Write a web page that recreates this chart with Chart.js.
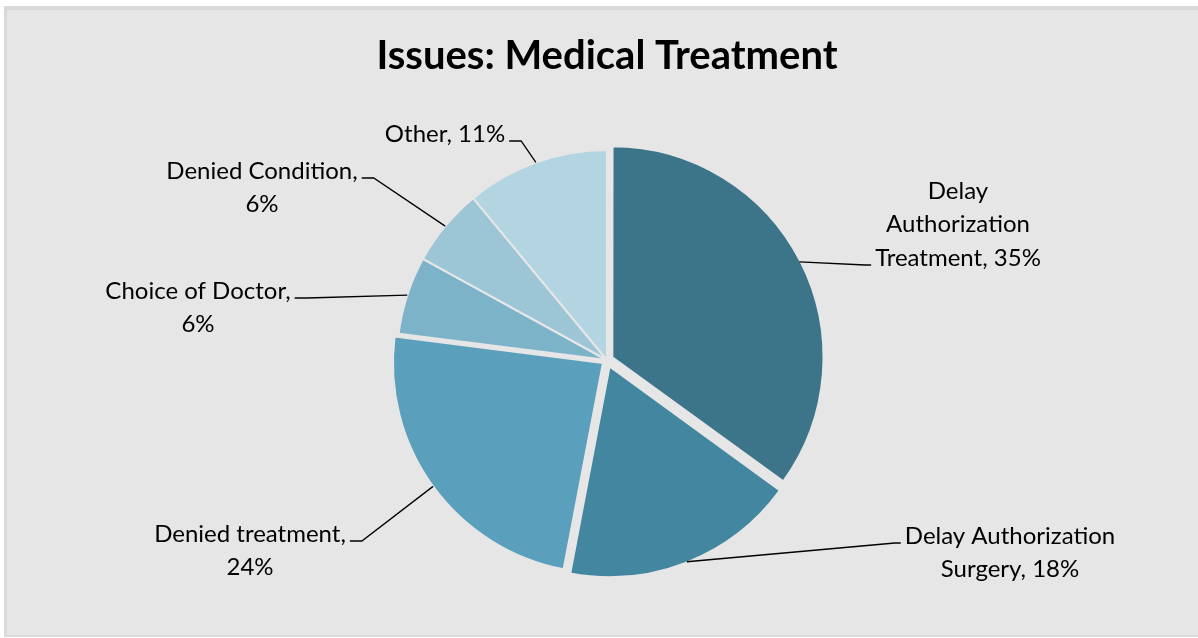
<!DOCTYPE html>
<html>
<head>
<meta charset="utf-8">
<title>Issues: Medical Treatment</title>
<script src="https://cdn.jsdelivr.net/npm/chart.js@4.4.0/dist/chart.umd.min.js"></script>
<style>
  html, body { margin: 0; padding: 0; background: #ffffff; }
  #frame {
    position: absolute; left: 4px; top: 6px; width: 1194px; height: 631px;
    box-sizing: border-box; background: #e6e6e6;
    border-left: 3px solid #d9d9d9; border-top: 4px solid #d9d9d9; border-bottom: 2px solid #d9d9d9;
  }
  #issuesChart { position: absolute; left: 0; top: 0; }
</style>
</head>
<body>
<div id="frame"></div>
<canvas id="issuesChart" width="1198" height="638"></canvas>
<script>
// data
const categories = [
    'Delay Authorization Treatment',
    'Delay Authorization Surgery',
    'Denied treatment',
    'Choice of Doctor',
    'Denied Condition',
    'Other'
];
const percents = [35, 18, 24, 6, 6, 11];

// word index where each new label line starts
const lineBreaks = [[1, 2], [2], [2], [3], [2], []];

const sliceColors = ['#3c7489', '#42869f', '#5a9fbc', '#7cb3c9', '#9cc5d6', '#b3d5e1'];
const explodePx = [6, 7, 5, 0, 0, 0];

// where each label sits: text centre, first line y, which line the leader joins, and on which side
const labelLayout = [
    { x: 958, y: 191, line: 2, side: 'left' },
    { x: 1010, y: 536, line: 0, side: 'left' },
    { x: 250, y: 534, line: 0, side: 'right' },
    { x: 198, y: 291, line: 0, side: 'right' },
    { x: 262, y: 171, line: 0, side: 'right' },
    { x: 445, y: 134, line: 0, side: 'right' }
];
const labelFont = '24px Lato';
const lineHeight = 33.5;

function wrapLabel(i) {
    const words = (categories[i] + ', ' + percents[i] + '%').split(' ');
    const lines = [];
    let cur = [];
    words.forEach((w, k) => {
        if (lineBreaks[i].includes(k) && cur.length) {
            lines.push(cur.join(' '));
            cur = [];
        }
        cur.push(w);
    });
    lines.push(cur.join(' '));
    return lines;
}

// data labels with leader lines, drawn after the slices
const leaderLabels = {
    id: 'leaderLabels',
    afterDatasetsDraw(chart) {
        const ctx = chart.ctx;
        const arcs = chart.getDatasetMeta(0).data;
        ctx.save();
        ctx.font = labelFont;
        ctx.fillStyle = '#000000';
        ctx.strokeStyle = '#000000';
        ctx.lineWidth = 1.3;
        ctx.textAlign = 'center';
        ctx.textBaseline = 'middle';
        arcs.forEach((arc, i) => {
            const lines = wrapLabel(i);
            const lay = labelLayout[i];
            lines.forEach((t, k) => ctx.fillText(t, lay.x, lay.y + k * lineHeight));

            const mid = (arc.startAngle + arc.endAngle) / 2;
            const r = arc.outerRadius + explodePx[i];
            const ax = arc.x + Math.cos(mid) * r;
            const ay = arc.y + Math.sin(mid) * r;

            const w = ctx.measureText(lines[lay.line]).width;
            const ly = lay.y + lay.line * lineHeight + 7;
            const tx = lay.side === 'left' ? lay.x - w / 2 - 4 : lay.x + w / 2 + 4;
            const ex = lay.side === 'left' ? tx - 6 : tx + 12;

            ctx.beginPath();
            ctx.moveTo(tx, ly);
            ctx.lineTo(ex, ly);
            ctx.lineTo(ax, ay);
            ctx.stroke();
        });
        ctx.restore();
    }
};

const ctx = document.getElementById('issuesChart').getContext('2d');
const issuesChart = new Chart(ctx, {
    type: 'pie',
    data: {
        labels: categories,
        datasets: [{
            data: percents,
            backgroundColor: sliceColors,
            borderColor: '#e6e6e6',
            borderWidth: 2,
            offset: explodePx.map(v => v * 4)
        }]
    },
    options: {
        responsive: false,
        animation: false,
        radius: 210,
        layout: {
            padding: { left: 16, right: 0, top: 0, bottom: 0 }
        },
        plugins: {
            legend: { display: false },
            tooltip: { enabled: false },
            title: {
                display: true,
                text: 'Issues: Medical Treatment',
                color: '#000000',
                font: { family: 'Lato', size: 40, weight: 'bold' },
                padding: { top: 32, bottom: 2 }
            }
        }
    },
    plugins: [leaderLabels]
});
</script>
</body>
</html>
